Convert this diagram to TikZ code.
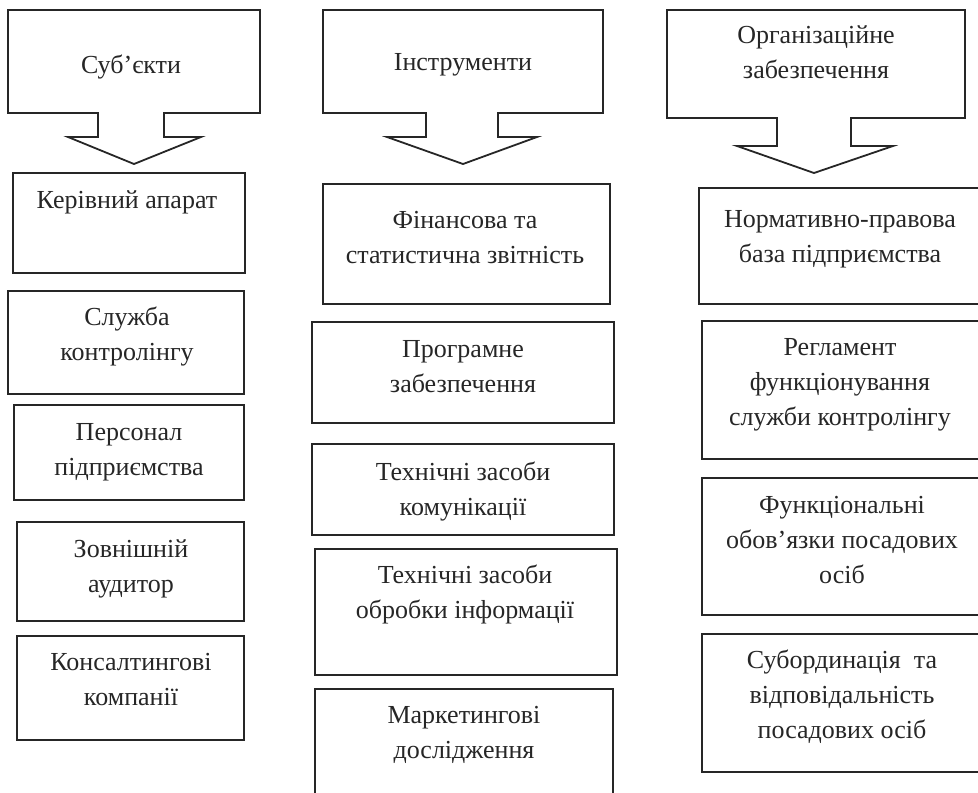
\documentclass[tikz,border=0pt]{standalone}
\usepackage{fontspec}
\setmainfont{Liberation Serif}
\usetikzlibrary{fit}
\definecolor{ink}{HTML}{262626}
\tikzset{
  boxst/.style={draw=ink, line width=1.8pt, inner sep=0pt, rectangle},
  txt/.style={anchor=north, inner sep=0pt, align=center, text=ink,
    font=\fontsize{26}{35}\selectfont},
  headst/.style={draw=ink, line width=1.8pt, line join=miter}
}
\newcommand\mybox[8]{%
  \node[boxst, fit={(#2,#3)(#4,#5)}] (#1) {};
  \node[txt] (#1t) at (#6,#7-24.5) {\strut #8};}
\begin{document}
\begin{tikzpicture}[x=1pt,y=-1pt]
\useasboundingbox (0,0) rectangle (978,793);
\clip (0,0) rectangle (978,793);
% headers
\draw[headst] (8,10) -- (260,10) -- (260,113) -- (164,113) -- (164,137) -- (201,137)
  -- (134,164) -- (68,137) -- (98,137) -- (98,113) -- (8,113) -- cycle;
\node[txt] (h1) at (131,73-24.5) {\strut Суб’єкти};
\draw[headst] (323,10) -- (603,10) -- (603,113) -- (498,113) -- (498,137) -- (537,137)
  -- (463,164) -- (387,137) -- (426,137) -- (426,113) -- (323,113) -- cycle;
\node[txt] (h2) at (463,70-24.5) {\strut Інструменти};
\draw[headst] (667,10) -- (965,10) -- (965,118) -- (851,118) -- (851,146) -- (893,146)
  -- (814,173) -- (737,146) -- (777,146) -- (777,118) -- (667,118) -- cycle;
\node[txt] (h3) at (816,43-24.5) {\strut Організаційне\\забезпечення};
% column 1
\mybox{b11}{13}{173}{245}{273}{127}{208}{Керівний апарат}
\mybox{b12}{8}{291}{244}{394}{127}{325}{Служба\\контролінгу}
\mybox{b13}{14}{405}{244}{500}{129}{440}{Персонал\\підприємства}
\mybox{b14}{17}{522}{244}{621}{131}{557}{Зовнішній\\аудитор}
\mybox{b15}{17}{636}{244}{740}{131}{670}{Консалтингові\\компанії}
% column 2
\mybox{b21}{323}{184}{610}{304}{465}{228}{Фінансова та\\статистична звітність}
\mybox{b22}{312}{322}{614}{423}{463}{357}{Програмне\\забезпечення}
\mybox{b23}{312}{444}{614}{535}{463}{480}{Технічні засоби\\комунікації}
\mybox{b24}{315}{549}{617}{675}{465}{583}{Технічні засоби\\обробки інформації}
\mybox{b25}{315}{689}{613}{810}{464}{723}{Маркетингові\\дослідження}
% column 3
\mybox{b31}{699}{188}{995}{304}{840}{227}{Нормативно-правова\\база підприємства}
\mybox{b32}{702}{321}{995}{459}{840}{355}{Регламент\\функціонування\\служби контролінгу}
\mybox{b33}{702}{478}{995}{615}{842}{513}{Функціональні\\обов’язки посадових\\осіб}
\mybox{b34}{702}{634}{995}{772}{842}{668}{Субординація\ \ та\\відповідальність\\посадових осіб}
\end{tikzpicture}
\end{document}
